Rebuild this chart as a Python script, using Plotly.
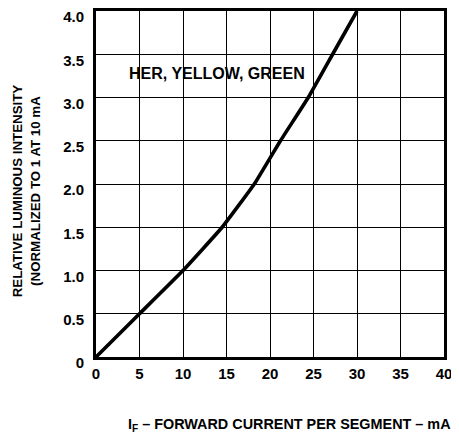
import plotly.graph_objects as go

current_ma = [0, 5, 10, 14.5, 18.2, 21.2, 24.4, 27.2, 30.0]
rel_intensity = [0, 0.5, 1.0, 1.5, 2.0, 2.5, 3.0, 3.5, 4.0]
x_ticks = [0, 5, 10, 15, 20, 25, 30, 35, 40]
x_tick_labels = ["0", "5", "10", "15", "20", "25", "30", "35", "40"]
y_ticks = [0, 0.5, 1.0, 1.5, 2.0, 2.5, 3.0, 3.5, 4.0]
y_tick_labels = ["0", "0.5", "1.0", "1.5", "2.0", "2.5", "3.0", "3.5", "4.0"]

FONT = "Liberation Sans, Arial, Helvetica, sans-serif"

fig = go.Figure()
fig.add_trace(go.Scatter(
    x=current_ma, y=rel_intensity, mode="lines",
    line=dict(color="black", width=3.6, shape="spline", smoothing=0.3),
    showlegend=False, hoverinfo="skip"))

axis_common = dict(
    showgrid=True, gridcolor="black", gridwidth=1.4,
    showline=True, linecolor="black", linewidth=2.8, mirror=True,
    zeroline=False, ticks="", automargin=False, ticklabeloverflow="allow",
    tickfont=dict(family=FONT, size=15, color="black", weight="bold"),
)

fig.update_xaxes(range=[0, 40], tickvals=x_ticks, ticktext=x_tick_labels, ticklabelstandoff=1, **axis_common)
fig.update_yaxes(range=[0, 4.0], tickvals=y_ticks, ticktext=y_tick_labels, ticklabelstandoff=6,
                 ticklabelshift=6, **axis_common)

fig.add_annotation(text="HER, YELLOW, GREEN", x=0.348, y=0.82, xref="paper", yref="paper",
                   xanchor="center", yanchor="middle",
                   showarrow=False, font=dict(family=FONT, size=16, color="black", weight="bold"))
fig.add_annotation(text="RELATIVE LUMINOUS INTENSITY<br>(NORMALIZED TO 1 AT 10 mA",
                   x=-0.2, y=0.48, xref="paper", yref="paper", textangle=-90,
                   xanchor="center", yanchor="middle",
                   showarrow=False, font=dict(family=FONT, size=13.3, color="black", weight="bold"))
fig.add_annotation(text="I<sub>F</sub> – FORWARD CURRENT PER SEGMENT – mA",
                   x=0.555, y=-0.197, xref="paper", yref="paper",
                   xanchor="center", yanchor="middle",
                   showarrow=False, font=dict(family=FONT, size=14.4, color="black", weight="bold"))

fig.update_layout(
    width=451, height=433,
    margin=dict(l=88, r=15, t=3, b=84),
    paper_bgcolor="white", plot_bgcolor="white",
)

fig.write_html("out.html")
